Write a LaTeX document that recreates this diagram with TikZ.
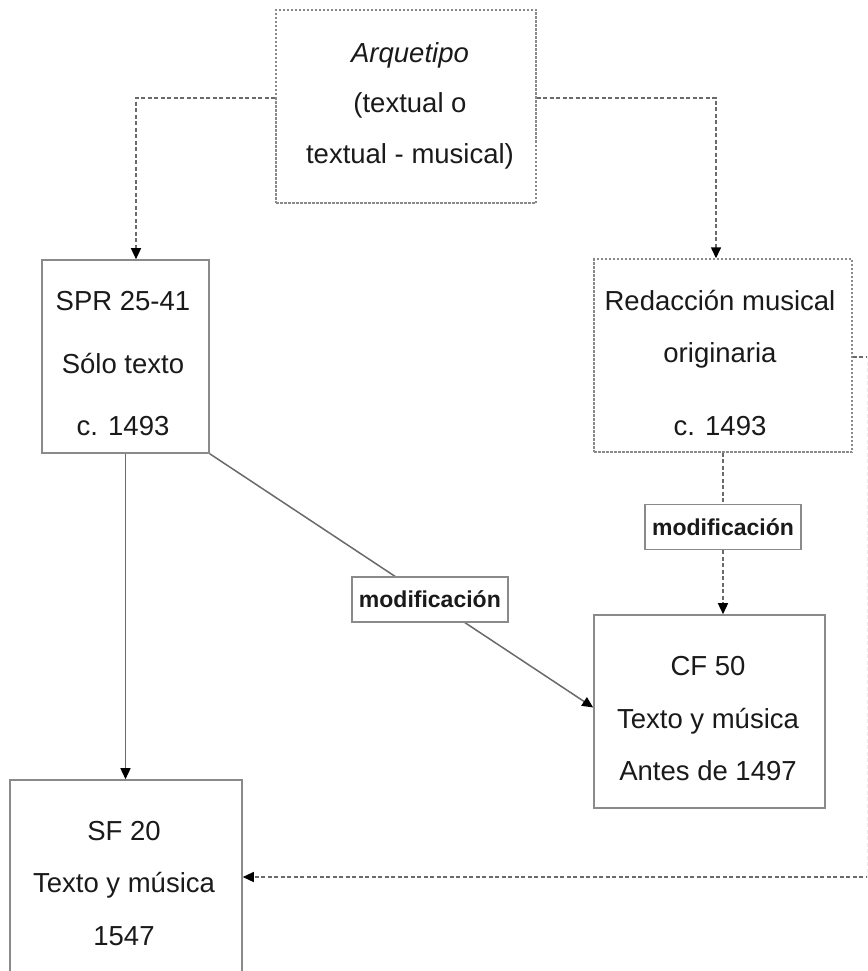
\documentclass[tikz,border=0pt]{standalone}
\usepackage{fontspec}
\setmainfont{Liberation Sans}
\usetikzlibrary{arrows.meta,calc}
\definecolor{boxgray}{HTML}{8A8A8A}
\definecolor{linegray}{HTML}{6A6A6A}
\definecolor{txt}{HTML}{1A1A1A}
\tikzset{
  solidbox/.style={draw=boxgray,line width=1.6pt,rectangle,inner sep=0pt},
  dashbox/.style={draw=boxgray,line width=1.4pt,dash pattern=on 2.5pt off 1.5pt,rectangle,inner sep=0pt},
  txtline/.style={anchor=base,inner sep=0pt,text=txt,font=\fontsize{27.5}{33}\selectfont},
  modbox/.style={draw=boxgray,solid,line width=1.3pt,fill=white,text=txt,font=\fontsize{23}{27}\bfseries\selectfont,minimum width=156pt,minimum height=45pt,inner sep=0pt},
  solidcon/.style={draw=linegray,line width=1.5pt},
  dashcon/.style={draw=linegray,line width=1.4pt,dash pattern=on 4pt off 2.5pt},
  tip/.style={-{Triangle[length=11pt,width=10pt,color=black]}}
}
\begin{document}
\begin{tikzpicture}[x=1pt,y=-1pt]
\clip (0,0) rectangle (867,971);
\fill[white] (0,0) rectangle (867,971);
% boxes
\node[dashbox,minimum width=260pt,minimum height=193pt] (arq) at (406,106.5) {};
\node[solidbox,minimum width=167pt,minimum height=193pt] (spr) at (125.5,356.5) {};
\node[dashbox,minimum width=258pt,minimum height=193pt] (red) at (723,355.5) {};
\node[solidbox,minimum width=231pt,minimum height=193pt] (cf) at (709.5,711.5) {};
\node[solidbox,minimum width=232pt,minimum height=195pt] (sf) at (126,877.5) {};
% texts
\node[txtline] (arq1) at (410,63) {\itshape Arquetipo};
\node[txtline] (arq2) at (410,113) {(textual o};
\node[txtline] (arq3) at (410,163) {textual - musical)};
\node[txtline] (spr1) at (123,310) {SPR 25-41};
\node[txtline] (spr2) at (123,373) {Sólo texto};
\node[txtline] (spr3) at (123,435) {c. 1493};
\node[txtline] (red1) at (720,310) {Redacción musical};
\node[txtline] (red2) at (720,362) {originaria};
\node[txtline] (red3) at (720,435) {c. 1493};
\node[txtline] (cf1) at (708,675) {CF 50};
\node[txtline] (cf2) at (708,728) {Texto y música};
\node[txtline] (cf3) at (708,780) {Antes de 1497};
\node[txtline] (sf1) at (124,840) {SF 20};
\node[txtline] (sf2) at (124,892) {Texto y música};
\node[txtline] (sf3) at (124,945) {1547};
% connectors
\coordinate (rc) at (867.6,877);
\draw[dashcon,tip] ([yshift=8.5pt]arq.west) -| ([xshift=10.5pt]spr.north);
\draw[dashcon,tip] ([yshift=8.5pt]arq.east) -| ([xshift=-7pt]red.north);
\draw[solidcon,tip] (spr.south) -- (spr.south |- sf.north);
\draw[solidcon,tip] (spr.south east) -- ([yshift=4pt]cf.west)
  node[modbox,pos=0.574] (mod1) {modificación};
\draw[dashcon,tip] (red.south) -- (red.south |- cf.north)
  node[modbox,pos=0.46] (mod2) {modificación};
\draw[dashcon,tip] ([yshift=-1.5pt]red.east) -| (rc) -- (rc -| sf.east);
\end{tikzpicture}
\end{document}
